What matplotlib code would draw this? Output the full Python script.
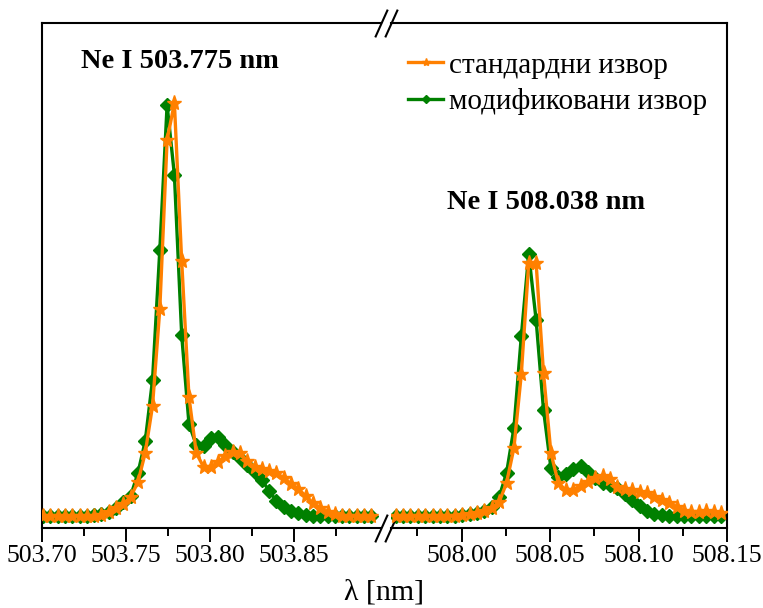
import numpy as np
import matplotlib
matplotlib.use("Agg")
import matplotlib.pyplot as plt

plt.rcParams['font.family'] = ['Liberation Serif', 'DejaVu Serif']

# wavelength grid of the spectrometer (start, step in nm)
wl_left = 503.7007 + 0.004345 * np.arange(46)
wl_right = 507.9626 + 0.004183 * np.arange(45)

# intensities (a.u.)
std_left = [16, 16, 16, 16, 16, 16, 16, 16, 17, 20, 24, 28, 35, 50, 79, 126,
            223, 392, 429, 271, 135, 79, 65, 65, 70, 76, 80, 79, 71, 65, 63,
            61, 59, 54, 48, 43, 36, 29, 24, 20, 18, 16, 16, 16, 16, 16]
mod_left = [16, 16, 16, 16, 16, 16, 16, 17, 18, 20, 24, 30, 36, 59, 91, 152,
            282, 427, 357, 197, 108, 87, 86, 94, 95, 87, 80, 74, 67, 60, 52,
            41, 31, 25, 21, 19, 17, 16, 16, 16, 16, 16, 16, 16, 16, 16]
std_right = [16, 16, 16, 16, 16, 16, 16, 16, 16, 17, 18, 19, 21, 24, 30, 49,
             84, 158, 269, 269, 159, 79, 49, 42, 42, 46, 50, 54, 56, 53, 45,
             43, 42, 40, 39, 35, 32, 29, 25, 21, 20, 20, 21, 20, 19]
mod_right = [16, 16, 16, 16, 16, 16, 16, 16, 16, 17, 18, 19, 21, 25, 35, 59,
             104, 196, 278, 212, 122, 64, 55, 58, 63, 66, 60, 54, 49, 47, 44,
             38, 32, 26, 21, 18, 17, 16, 16, 16, 16, 16, 16, 16, 16]

labels = ['стандардни извор', 'модификовани извор']
orange = '#FF8000'
green = '#008000'

fig = plt.figure(figsize=(7.63, 6.08), dpi=100)
ax1 = fig.add_axes([0.0550, 0.1316, 0.4443, 0.8306])
ax2 = fig.add_axes([0.5124, 0.1316, 0.4404, 0.8306])

for ax, wl, s, m in [(ax1, wl_left, std_left, mod_left),
                     (ax2, wl_right, std_right, mod_right)]:
    ax.plot(wl, m, color=green, lw=2.4, marker='D', ms=7.5, zorder=2)
    ax.plot(wl, s, color=orange, lw=2.4, marker='*', ms=11, zorder=3)
    ax.set_ylim(4, 509)
    ax.set_yticks([])
    for sp in ax.spines.values():
        sp.set_linewidth(1.5)
    ax.tick_params(axis='x', which='major', direction='out', length=10,
                   width=1.4, labelsize=18.5, pad=2)
    ax.tick_params(axis='x', which='minor', direction='out', length=6,
                   width=1.4)

ax1.set_xlim(503.70, 503.902)
ax1.set_xticks([503.70, 503.75, 503.80, 503.85])
ax1.set_xticks([503.725, 503.775, 503.825, 503.875], minor=True)
ax1.set_xticklabels(['503.70', '503.75', '503.80', '503.85'])
ax1.spines['right'].set_visible(False)

ax2.set_xlim(507.96, 508.15)
ax2.set_xticks([508.00, 508.05, 508.10, 508.15])
ax2.set_xticks([507.975, 508.025, 508.075, 508.125], minor=True)
ax2.set_xticklabels(['508.00', '508.05', '508.10', '508.15'])
ax2.spines['left'].set_visible(False)

# break marks
slash = [(-0.45, -1), (0.45, 1)]
kw = dict(marker=slash, markersize=20, linestyle='none', color='k',
          mec='k', mew=1.5, clip_on=False)
ax1.plot([1, 1], [0, 1], transform=ax1.transAxes, **kw)
ax2.plot([0, 0], [0, 1], transform=ax2.transAxes, **kw)

ax1.text(503.7232, 470, 'Ne I 503.775 nm', fontsize=20.5, fontweight='bold',
         va='center', ha='left')
ax2.text(507.9915, 329, 'Ne I 508.038 nm', fontsize=20.5, fontweight='bold',
         va='center', ha='left')

h_std = plt.Line2D([], [], color=orange, lw=2.4, marker='*', ms=6)
h_mod = plt.Line2D([], [], color=green, lw=2.4, marker='D', ms=4)
fig.legend([h_std, h_mod], labels, loc='upper left',
           bbox_to_anchor=(0.535, 0.914), frameon=False, fontsize=21,
           handlelength=1.2, handletextpad=0.2, labelspacing=0.33,
           borderpad=0, borderaxespad=0)

fig.text(0.503, 0.025, 'λ [nm]', fontsize=21.5, ha='center', va='center')

fig.savefig('out.png', dpi=100)
